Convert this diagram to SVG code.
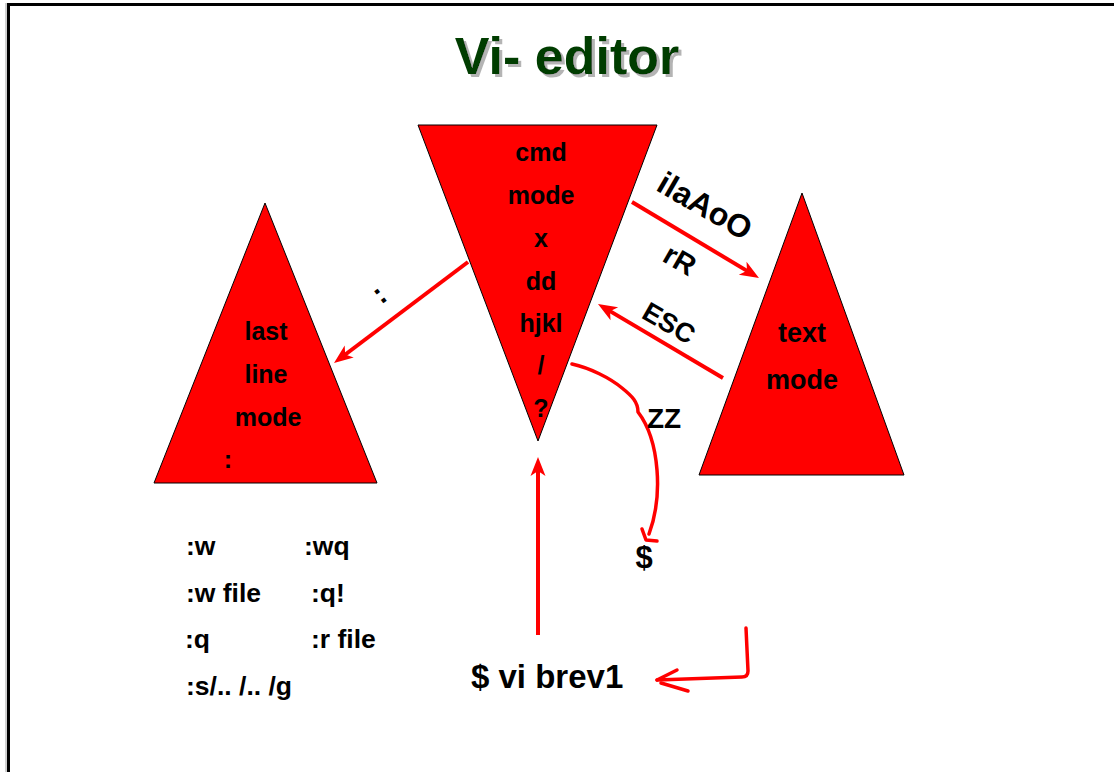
<svg xmlns="http://www.w3.org/2000/svg" width="1114" height="772" viewBox="0 0 1114 772">
<style>
  text { font-family: "Liberation Sans", Arial, sans-serif; font-weight: bold; fill: #000; }
  .tri { fill: #ff0000; stroke: #000; stroke-width: 1; }
  .arrow { stroke: #ff0000; stroke-width: 4; fill: none; marker-end: url(#ah); }
  .hand { stroke: #ff0000; stroke-width: 3.5; fill: none; stroke-linecap: round; stroke-linejoin: round; }
  .n { font-size: 25px; text-anchor: middle; }
  .l { font-size: 26.5px; }
</style>
<defs>
  <marker id="ah" markerUnits="userSpaceOnUse" markerWidth="30" markerHeight="30" refX="0" refY="0" orient="auto" overflow="visible" viewBox="-15 -15 30 30">
    <path d="M10,0 L-9,-7.5 L-4,0 L-9,7.5 Z" fill="#ff0000"/>
  </marker>
  <filter id="sh" x="-5%" y="-10%" width="115%" height="140%">
    <feOffset in="SourceAlpha" dx="3" dy="3" result="o"/>
    <feFlood flood-color="#b4b4b4"/>
    <feComposite in2="o" operator="in"/>
    <feMerge><feMergeNode/><feMergeNode in="SourceGraphic"/></feMerge>
  </filter>
</defs>
<rect width="1114" height="772" fill="#fff"/>
<g id="frame">
  <line x1="6" y1="3" x2="6" y2="772" stroke="#a0a0a0" stroke-width="1"/>
  <line x1="7" y1="4.5" x2="1114" y2="4.5" stroke="#000" stroke-width="3"/>
  <line x1="8.5" y1="3" x2="8.5" y2="772" stroke="#000" stroke-width="3"/>
</g>
<g id="title">
  <text x="567" y="74" font-size="52" text-anchor="middle" filter="url(#sh)" style="fill:#003c00">Vi- editor</text>
</g>
<g id="cmd-mode">
  <polygon class="tri" points="418,125 657,125 538,441"/>
  <text class="n" x="541" y="161">cmd</text>
  <text class="n" x="541" y="204">mode</text>
  <text class="n" x="541" y="247">x</text>
  <text class="n" x="541" y="290">dd</text>
  <text class="n" x="541" y="332">hjkl</text>
  <text class="n" x="541" y="374">/</text>
  <text class="n" x="541" y="417">?</text>
</g>
<g id="last-line-mode">
  <polygon class="tri" points="265,203 377,483 154,483"/>
  <text class="n" x="266" y="340">last</text>
  <text class="n" x="266" y="383">line</text>
  <text class="n" x="268" y="426">mode</text>
  <text class="n" x="228" y="468">:</text>
</g>
<g id="text-mode">
  <polygon class="tri" points="802,193 904,475 699,475"/>
  <text x="802" y="342" font-size="27" text-anchor="middle">text</text>
  <text x="802" y="389" font-size="27" text-anchor="middle">mode</text>
</g>
<g id="connectors">
  <line class="arrow" x1="468" y1="262" x2="342" y2="357"/>
  <line class="arrow" x1="632" y1="202" x2="750.4" y2="272.9"/>
  <line class="arrow" x1="723" y1="378" x2="606.6" y2="309.1"/>
  <line class="arrow" x1="538" y1="635" x2="538" y2="467"/>
  <path class="hand" d="M572,364 C590,368 610,378 622,388 C632,396 638,402 638,412 C648,425 655,445 657,470 C659,495 656,515 649,534"/>
  <path class="hand" d="M642,529 L646,540 L657,541"/>
  <path class="hand" d="M746,628 L748,671 Q748,677 742,677 L657,680"/>
  <path class="hand" d="M657,680 L677,670 M661,683 L688,691"/>
</g>
<g id="labels">
  <text transform="translate(379,294) rotate(-37)" font-size="30" text-anchor="middle" y="10">:</text>
  <text transform="translate(705,206) rotate(30)" font-size="32" text-anchor="middle" y="11">ilaAoO</text>
  <text transform="translate(680,260) rotate(30)" font-size="29" text-anchor="middle" y="10">rR</text>
  <text transform="translate(669,323) rotate(30)" font-size="27" text-anchor="middle" y="9.5">ESC</text>
  <text x="647" y="428" font-size="28">ZZ</text>
  <text x="644" y="568" font-size="31" text-anchor="middle">$</text>
  <text x="471" y="688" font-size="33">$ vi brev1</text>
</g>
<g id="commands">
  <text class="l" x="186" y="555">:w</text>
  <text class="l" x="304" y="555">:wq</text>
  <text class="l" x="186" y="602">:w file</text>
  <text class="l" x="311" y="602">:q!</text>
  <text class="l" x="185" y="648">:q</text>
  <text class="l" x="311" y="648">:r file</text>
  <text class="l" x="186" y="695">:s/.. /.. /g</text>
</g>
</svg>
